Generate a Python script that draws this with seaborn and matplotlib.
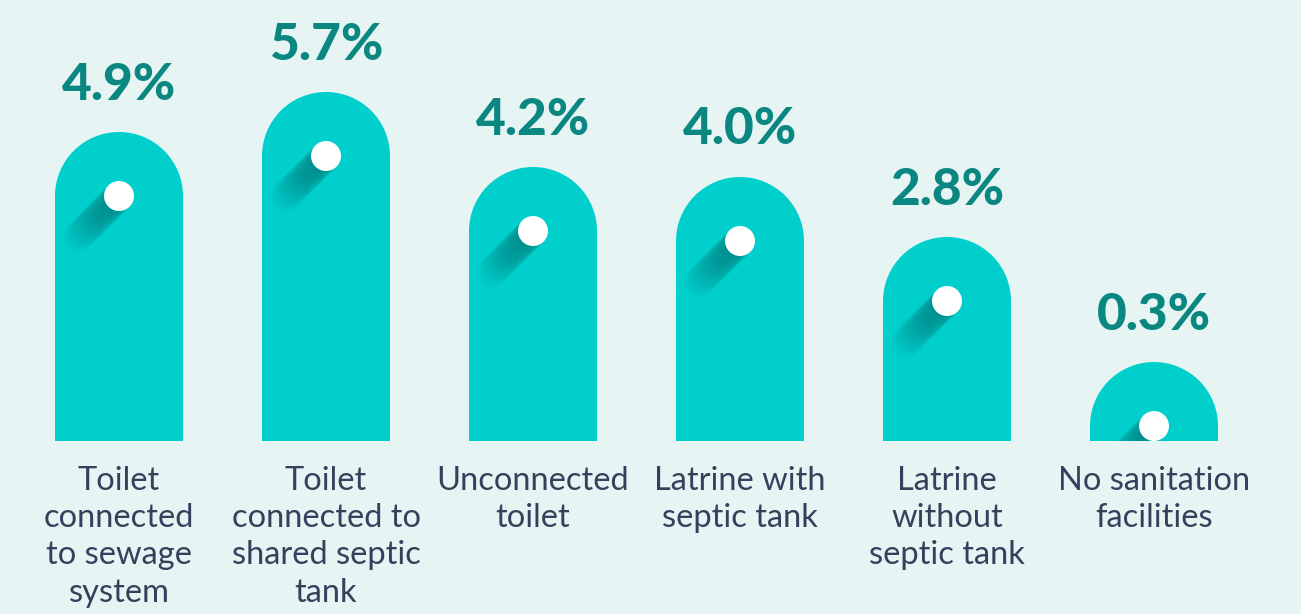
import matplotlib
matplotlib.use("Agg")
import matplotlib.pyplot as plt
import seaborn as sns
import numpy as np

categories = [
    "Toilet\nconnected\nto sewage\nsystem",
    "Toilet\nconnected to\nshared septic\ntank",
    "Unconnected\ntoilet",
    "Latrine with\nseptic tank",
    "Latrine\nwithout\nseptic tank",
    "No sanitation\nfacilities",
]
values = [4.9, 5.7, 4.2, 4.0, 2.8, 0.3]
value_labels = ["4.9%", "5.7%", "4.2%", "4.0%", "2.8%", "0.3%"]

BG = "#e6f4f4"
BAR = "#00cfcc"
SHADOW = "#007878"
VALUE_COLOR = "#0b8782"
TEXT_COLOR = "#33425c"

W, H, DPI = 1301, 614, 100
sns.set_theme(style="white")
plt.rcParams["font.family"] = ["Lato", "DejaVu Sans"]

fig = plt.figure(figsize=(W / DPI, H / DPI), dpi=DPI, facecolor=BG)
base_px = 441  # baseline height from top, in pixels
ax = fig.add_axes([0, (H - base_px) / H, 1, base_px / H])
ax.set_facecolor(BG)

spacing_px = 207.0
first_px = 119.0
x_left = -first_px / spacing_px
x_right = (W - first_px) / spacing_px
px_per_unit_y = 50.0

bar_w_px = 128.0
bar_w = bar_w_px / spacing_px
sns.barplot(x=list(range(len(values))), y=values, color=BAR, width=bar_w,
            saturation=1, ax=ax, zorder=2)
for p in ax.patches:
    p.set_edgecolor("none")
ax.set_xlim(x_left, x_right)
ax.set_ylim(0, base_px / px_per_unit_y)

pt_per_px = 72.0 / DPI
xs = np.arange(len(values))
vals = np.array(values)

# rounded caps: circles centred at each bar top, sized in screen space
cap_d_pt = bar_w_px * pt_per_px
ax.scatter(xs, vals, s=cap_d_pt ** 2, color=BAR, edgecolors="none",
           marker="o", zorder=2)

# long shadow behind the white dot, fading towards the lower left
dot_px = 30.0
n_steps = 40
shadow_len = 60.0
for k in range(n_steps, 0, -1):
    t = shadow_len * k / n_steps
    dx = -t / np.sqrt(2) / spacing_px
    dy = -t / np.sqrt(2) / px_per_unit_y
    alpha = 0.06 * (1 - k / (n_steps + 1)) + 0.008
    ax.scatter(xs + dx, vals + dy, s=(dot_px * pt_per_px) ** 2, color=SHADOW,
               edgecolors="none", alpha=alpha, zorder=3)

ax.scatter(xs, vals, s=(dot_px * pt_per_px) ** 2, color="white",
           edgecolors="none", zorder=4)

# value labels above the caps
cap_r_units = (bar_w_px / 2) / px_per_unit_y
for x, v, lab in zip(xs, vals, value_labels):
    ax.text(x, v + cap_r_units + 47 / px_per_unit_y, lab, ha="center",
            va="center", fontsize=37, fontweight="black", color=VALUE_COLOR,
            zorder=5)

ax.set_xticks(xs)
ax.set_xticklabels(categories, fontsize=23.5, color=TEXT_COLOR,
                   linespacing=1.3, fontweight="normal")
ax.tick_params(axis="x", length=0, pad=18)
ax.set_yticks([])
ax.set_xlabel("")
ax.set_ylabel("")
sns.despine(ax=ax, left=True, bottom=True)

fig.savefig("out.png", dpi=DPI, facecolor=BG)
